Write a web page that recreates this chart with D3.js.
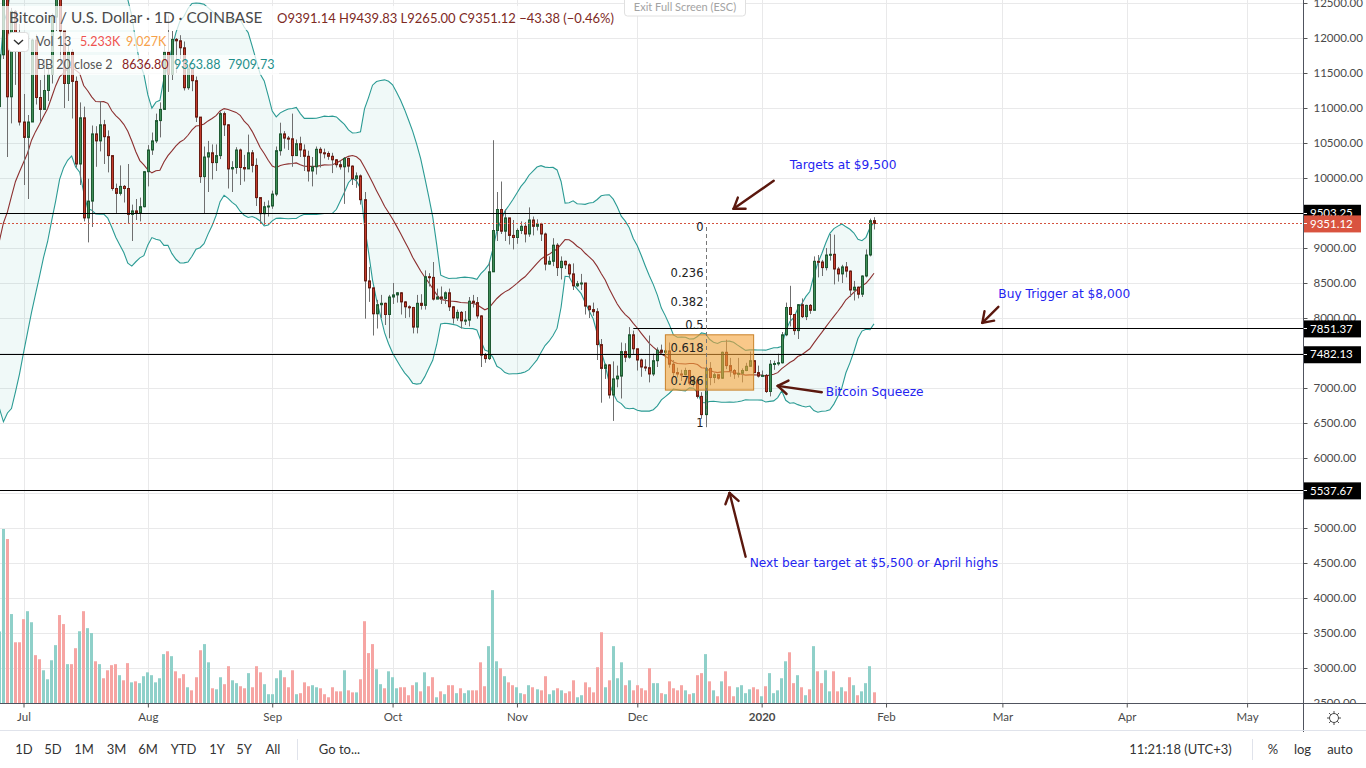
<!DOCTYPE html>
<html>
<head>
<meta charset="utf-8">
<script src="https://cdn.jsdelivr.net/npm/d3@7"></script>
<style>
html, body { margin: 0; padding: 0; background: #fff; overflow: hidden; }
svg { display: block; font-family: Lato, "Open Sans", sans-serif; }
</style>
</head>
<body>
<div id="chart"></div>
<script>
// daily BTC/USD candles, 1 Jun 2019 .. 29 Jan 2020 (Coinbase)
var firstDay = '2019-06-01';
var opens = [
	8560,8550,8740,8110,7680,7790,7810,8000,7930,7630, 8020,7930,8170,8240,8700,8860,8980,9330,9080,9280, 9530,10220,10680,10860,11020,11760,12930,11160,12380,11880,
	10800,10580,10800,11970,11150,10980,11250,11480,12300,12580, 12100,11350,11800,11380,10200,10860,9430,9670,10630,10530, 10760,10590,10320,9850,9780,9880,9850,9480,9530,9500, 9590,
	10090,10400,10530,10820,10980,11800,11480,11980,11960,11860, 11290,11560,11390,10870,10020,10300,10360,10220,10320,10920, 10760,10130,10150,10400,10150,10130,10360,10180,9720,9490, 9590,
	9600,9770,10390,10630,10570,10560,10320,10490,10400,10310, 10100,10160,10410,10360,10350,10310,10260,10190,10160,10280, 10170,9990,10030,9690,8530,8430,8060,8190,8210,8050,
	8300,8330,8360,8230,8160,8150,7870,8210,8180,8590, 8580,8270,8300,8280,8360,8160,8000,8080,7960,7970, 8240,8220,8030,7470,7420,8660,9250,9550,9240,9430, 9180,
	9150,9250,9310,9200,9400,9310,9340,9200,8770,8810, 9040,8720,8810,8760,8630,8460,8490,8500,8170,8120, 8090,7620,7280,7330,6900,7130,7170,7520,7440,7760,
	7560,7400,7300,7290,7200,7390,7540,7510,7530,7340, 7220,7200,7190,7250,7070,7110,6880,6620,7280,7150, 7190,7140,7510,7320,7250,7200,7210,7250,7310,7390, 7220,
	7170,7180,6950,7340,7350,7360,7760,8150,8050,7820, 8190,8020,8180,8110,8810,8800,8720,8900,8910,8700, 8630,8730,8670,8400,8440,8340,8600,8900,9391.14
];
var highs = [
	8630,8800,8740,8110,7900,7880,8150,8060,7960,8080, 8030,8250,8310,8700,8900,9350,9470,9350,9320,9600, 10220,11220,11350,11120,11800,13880,13380,12430,12400,12200,
	11200,10900,11990,12050,11400,11700,11600,12350,12800,13200, 12100,11920,11840,11450,11080,11020,9990,10750,10740,11100, 10830,10680,10320,9920,10180,9900,10200,9620,9700,9720, 10100,
	10470,10650,10920,11080,11900,12320,12100,12000,12040,11950, 11580,11560,11450,10870,10450,10530,10480,10480,10950,10950, 10770,10240,10440,10420,10330,10620,10400,10280,9720,9660, 9680,
	9820,10450,10790,10670,10600,10920,10550,10590,10480,10390, 10300,10450,10440,10420,10380,10360,10270,10250,10300,10290, 10180,10080,10050,9800,8730,8440,8260,8330,8220,8330,
	8500,8370,8370,8240,8180,8160,8330,8340,8680,8640, 8800,8420,8450,8380,8420,8170,8120,8100,8100,8300, 8330,8300,8040,7500,8800,10540,9800,9950,9550,9430, 9400,
	9280,9380,9370,9580,9450,9410,9360,9220,8880,9140, 9070,8880,8820,8780,8780,8530,8630,8500,8180,8220, 8140,7700,7350,7340,7380,7320,7650,7640,7870,7820,
	7560,7420,7410,7750,7490,7580,7620,7560,7650,7400, 7290,7260,7290,7260,7180,7140,6940,7440,7370,7220, 7190,7520,7690,7430,7270,7430,7280,7360,7520,7400, 7320,
	7250,7200,7400,7390,7490,7800,8220,8460,8050,8200, 8280,8190,8200,8880,8900,8830,9000,9200,9190,8730, 8760,8800,8680,8530,8450,8610,8980,9420,9439.83
];
var lows = [
	8460,8520,8080,7480,7580,7450,7750,7800,7520,7520, 7700,7850,8050,8170,8620,8830,8970,8950,9060,9200, 9530,10030,10590,10600,10980,11700,10300,10780,11330,10750,
	9900,9700,10800,11050,10800,10980,11100,11350,12100,11600, 11000,11100,10850,10150,9900,9380,9080,9300,10160,10380, 10200,10080,9820,9500,9750,9650,9350,9100,9400,9380, 9580,
	9880,10330,10500,10580,10980,11230,11400,11500,11700,11250, 11260,11240,10800,9930,9500,9800,9980,10100,10270,10600, 9850,9800,10060,9900,9950,10130,10080,9600,9350,9330, 9450,
	9560,9740,10320,10420,10400,10160,10320,10300,10100,9950, 9880,10050,10150,10280,10260,10070,10150,10120,9630,10080, 9900,9860,9620,7990,8230,7750,7850,8000,7900,7710,
	8200,8220,8050,8000,8010,7780,7780,8120,8120,8450, 8250,8270,8200,8200,8100,7920,7960,7850,7900,7880, 8150,7990,7300,7360,7400,8660,9100,9200,9100,9050, 8980,
	9060,9200,9080,9160,9180,9250,9100,8680,8760,8740, 8600,8550,8700,8570,8400,8440,8400,8050,8000,8030, 7400,6790,7130,6850,6530,7010,6850,7370,7420,7480,
	7250,7160,7240,7080,7170,7300,7490,7410,7290,7170, 7150,7100,7180,7040,7020,6850,6560,6440,7040,7070, 7120,7130,7270,7160,7130,7150,7080,7240,7300,7220, 7150,
	7170,6930,6880,7260,7320,7350,7740,7880,7760,7700, 8000,7970,8060,8110,8580,8600,8680,8820,8480,8520, 8500,8580,8300,8250,8280,8300,8580,8880,9265.00
];
var closes = [
	8550,8740,8110,7680,7790,7810,8000,7930,7630,8020, 7930,8170,8240,8700,8860,8980,9330,9080,9280,9530, 10220,10680,10860,11020,11760,12930,11160,12380,11880,10800,
	10580,10800,11970,11150,10980,11250,11480,12300,12580,12100, 11350,11800,11380,10200,10860,9430,9670,10630,10530,10760, 10590,10320,9850,9780,9880,9850,9480,9530,9500,9590, 10090,
	10400,10530,10820,10980,11800,11480,11980,11960,11860,11290, 11560,11390,10870,10020,10300,10360,10220,10320,10920,10760, 10130,10150,10400,10150,10130,10360,10180,9720,9490,9590, 9600,
	9770,10390,10630,10570,10560,10320,10490,10400,10310,10100, 10160,10410,10360,10350,10310,10260,10190,10160,10280,10170, 9990,10030,9690,8530,8430,8060,8190,8210,8050,8300,
	8330,8360,8230,8160,8150,7870,8210,8180,8590,8580, 8270,8300,8280,8360,8160,8000,8080,7960,7970,8240, 8220,8030,7470,7420,8660,9250,9550,9240,9430,9180, 9150,
	9250,9310,9200,9400,9310,9340,9200,8770,8810,9040, 8720,8810,8760,8630,8460,8490,8500,8170,8120,8090, 7620,7280,7330,6900,7130,7170,7520,7440,7760,7560,
	7400,7300,7290,7200,7390,7540,7510,7530,7340,7220, 7200,7190,7250,7070,7110,6880,6620,7280,7150,7190, 7140,7510,7320,7250,7200,7210,7250,7310,7390,7220, 7170,
	7180,6950,7340,7350,7360,7760,8150,8050,7820,8190, 8020,8180,8110,8810,8800,8720,8900,8910,8700,8630, 8730,8670,8400,8440,8340,8600,8900,9390,9351.12
];
// volume in thousands of BTC
var volumes = [
	22,18,30,35,20,18,19,15,16,18, 15,16,15,20,12,22,24,18,14,16, 30,40,22,24,35,85.1,80.2,43.5,29.7,29.7,
	41.0,44.9,39.5,23.4,21.4,16.0,11.6,20.9,28.3,43.0, 38.6,19.0,19.0,26.8,35.1,44.9,36.6,34.2,20.4,19.0, 12.1,16.0,18.5,19.0,13.6,11.1,19.5,10.1,10.6,9.7, 13.1,
	15.0,13.6,10.1,12.1,23.9,25.3,22.9,15.5,12.1,14.1, 7.7,6.2,12.6,25.8,28.8,19.9,7.2,6.7,12.6,9.2, 18.0,11.1,9.7,8.2,7.2,14.6,7.7,18.0,15.0,9.2, 4.3,
	4.3,12.1,16.0,12.6,7.7,16.0,4.3,4.8,10.1,8.2, 8.7,7.7,7.2,4.3,2.8,7.7,5.7,5.7,16.0,6.2, 5.2,5.2,11.6,40.0,24.4,28.8,16.5,9.2,7.2,15.5,
	12.6,7.2,7.7,7.7,3.8,8.7,10.1,5.7,15.0,8.2, 12.6,2.8,5.7,4.3,8.7,8.7,4.8,7.2,4.8,6.2, 6.2,6.2,19.9,8.2,27.8,55.2,20.4,17.0,13.1,10.1, 8.7,
	7.7,4.8,4.3,8.7,7.7,6.7,6.2,13.1,4.3,6.2, 7.2,6.2,4.8,5.7,11.1,2.8,3.8,10.1,7.7,5.2, 17.5,34.6,7.7,11.1,27.8,12.1,19.9,8.7,11.1,6.2,
	8.7,7.2,6.2,17.0,9.7,9.7,4.8,4.3,10.6,7.2, 6.2,8.7,6.2,4.3,4.8,13.6,14.6,23.9,10.6,6.2, 3.3,10.6,15.5,8.2,3.3,7.7,8.7,4.8,6.7,7.7, 6.7,
	3.3,8.2,14.6,4.8,6.2,12.1,20.4,24.8,9.7,13.6, 7.7,3.8,6.7,27.8,15.5,9.7,16.0,5.7,15.5,5.7, 7.7,5.7,12.6,8.7,3.8,5.7,9.7,18.0,5.233
];

// drawings on the chart
var levelLines = [
	{ price: 9503.25, from: null },
	{ price: 7851.37, from: '2019-11-30' },
	{ price: 7482.13, from: null },
	{ price: 5537.67, from: null }
];
var lastPrice = 9351.12;
var fibLevels = [0, 0.236, 0.382, 0.5, 0.618, 0.786, 1];
var fibTop = 9300, fibBottom = 6500, fibDay = '2019-12-18';
var squeezeBox = { from: '2019-12-08', to: '2019-12-30', top: 7760, bottom: 6970 };
var notes = [
	{ text: 'Targets at $9,500', at: ['2020-01-08', 10190], tip: ['2019-12-25', 9560], tail: ['2020-01-04', 9960] },
	{ text: 'Buy Trigger at $8,000', at: ['2020-02-29', 8340], tip: ['2020-02-25', 7930], tail: ['2020-02-29', 8160] },
	{ text: 'Bitcoin Squeeze', at: ['2020-01-17', 6940], tip: ['2020-01-05', 7030], tail: ['2020-01-16', 6940] },
	{ text: 'Next bear target at $5,500 or April highs', at: ['2019-12-29', 4500], tip: ['2019-12-24', 5500], tail: ['2019-12-28', 4590] }
];
var priceTicks = d3.range(2500, 12501, 500);

//configuration
var width = 1366, height = 768,
	plotW = 1303, plotH = 703,
	upFill = '#3e8e57', upLine = '#1f5a33',
	downFill = '#c33b2c', downLine = '#6a1d13',
	wickColor = '#6f6f6f';

var parse = d3.utcParse('%Y-%m-%d');
var days = d3.utcDay.range(parse(firstDay), d3.utcDay.offset(parse(firstDay), closes.length));

var candles = days.map(function(d, i){
	return { date: d, o: opens[i], h: highs[i], l: lows[i], c: closes[i], v: volumes[i] };
});

// Bollinger bands 20, 2 on close
var bands = [];
for (var i = 19; i < closes.length; i++) {
	var win = closes.slice(i - 19, i + 1);
	var m = d3.mean(win);
	var sd = Math.sqrt(d3.mean(win, function(v){ return (v - m) * (v - m); }));
	bands.push({ date: days[i], basis: m, upper: m + 2 * sd, lower: m - 2 * sd });
}

var x = d3.scaleUtc()
	.domain([parse('2019-07-01'), parse('2020-01-29')])
	.range([23.5, 874]);
var y = d3.scaleLinear().domain([2500, 12500]).range([703, 3]);
var yVol = d3.scaleLinear().domain([0, 85.1]).range([703, 529]);

var svg = d3.select('#chart').append('svg')
	.attr('width', width)
	.attr('height', height);

svg.append('rect').attr('width', width).attr('height', height).attr('fill', '#fff');

svg.append('clipPath').attr('id', 'plot')
	.append('rect').attr('width', plotW).attr('height', plotH);

var plot = svg.append('g').attr('clip-path', 'url(#plot)');

// grid
var months = d3.utcMonth.range(parse('2019-07-01'), parse('2020-05-02'));
plot.selectAll('.hgrid').data(priceTicks).enter().append('line')
	.attr('x1', 0).attr('x2', plotW)
	.attr('y1', function(d){ return Math.round(y(d)) + 0.5; })
	.attr('y2', function(d){ return Math.round(y(d)) + 0.5; })
	.attr('stroke', '#e9e9ea');
plot.selectAll('.vgrid').data(months).enter().append('line')
	.attr('y1', 0).attr('y2', plotH)
	.attr('x1', function(d){ return Math.round(x(d)) + 0.5; })
	.attr('x2', function(d){ return Math.round(x(d)) + 0.5; })
	.attr('stroke', '#e9e9ea');

// volume
plot.selectAll('.vol').data(candles).enter().append('rect')
	.attr('x', function(d){ return Math.round(x(d.date) - 1.5); })
	.attr('width', 3)
	.attr('y', function(d){ return yVol(d.v); })
	.attr('height', function(d){ return 703 - yVol(d.v); })
	.attr('fill', function(d){ return d.c >= d.o ? '#8fd0c9' : '#f6a5a3'; });

// bollinger
plot.append('path').datum(bands)
	.attr('d', d3.area().x(function(d){ return x(d.date); })
		.y0(function(d){ return y(d.lower); })
		.y1(function(d){ return y(d.upper); }))
	.attr('fill', '#26a69a').attr('fill-opacity', 0.07);
[['upper', '#2b9b94'], ['lower', '#2b9b94'], ['basis', '#8c3030']].forEach(function(b){
	plot.append('path').datum(bands)
		.attr('d', d3.line().x(function(d){ return x(d.date); }).y(function(d){ return y(d[b[0]]); }))
		.attr('fill', 'none').attr('stroke', b[1]).attr('stroke-width', 1.1);
});

// candles
var mark = plot.selectAll('.mark').data(candles).enter().append('g').attr('class', 'mark');
mark.append('line')
	.attr('x1', function(d){ return Math.round(x(d.date)) + 0.5; })
	.attr('x2', function(d){ return Math.round(x(d.date)) + 0.5; })
	.attr('y1', function(d){ return y(d.h); })
	.attr('y2', function(d){ return y(d.l); })
	.attr('stroke', wickColor);
mark.append('rect')
	.attr('x', function(d){ return Math.round(x(d.date)) - 0.5; })
	.attr('width', 2)
	.attr('y', function(d){ return y(Math.max(d.o, d.c)); })
	.attr('height', function(d){ return Math.max(1, Math.abs(y(d.o) - y(d.c))); })
	.attr('fill', function(d){ return d.c >= d.o ? upFill : downFill; })
	.attr('stroke', function(d){ return d.c >= d.o ? upLine : downLine; })
	.attr('stroke-width', 1);

// horizontal lines
plot.selectAll('.level').data(levelLines).enter().append('line')
	.attr('x1', function(d){ return d.from ? x(parse(d.from)) : 0; })
	.attr('x2', plotW)
	.attr('y1', function(d){ return Math.round(y(d.price)) + 0.5; })
	.attr('y2', function(d){ return Math.round(y(d.price)) + 0.5; })
	.attr('stroke', '#000').attr('stroke-width', 1.2);
plot.append('line')
	.attr('x1', 0).attr('x2', plotW)
	.attr('y1', Math.round(y(lastPrice)) + 0.5).attr('y2', Math.round(y(lastPrice)) + 0.5)
	.attr('stroke', '#d3533f').attr('stroke-dasharray', '2,2');

// squeeze box
plot.append('rect')
	.attr('x', x(parse(squeezeBox.from)))
	.attr('width', x(parse(squeezeBox.to)) - x(parse(squeezeBox.from)))
	.attr('y', y(squeezeBox.top))
	.attr('height', y(squeezeBox.bottom) - y(squeezeBox.top))
	.attr('fill', '#f5a33a').attr('fill-opacity', 0.6)
	.attr('stroke', '#c9822a');

// fibonacci
var fx = Math.round(x(parse(fibDay))) + 0.5;
plot.append('line')
	.attr('x1', fx).attr('x2', fx)
	.attr('y1', y(fibTop)).attr('y2', y(fibBottom) + 4)
	.attr('stroke', '#777').attr('stroke-dasharray', '4,3');
plot.selectAll('.fib').data(fibLevels).enter().append('text')
	.attr('x', fx - 3)
	.attr('y', function(d){ return y(fibTop - d * (fibTop - fibBottom)); })
	.attr('dy', '0.35em')
	.attr('text-anchor', 'end')
	.style('font-family', '"DejaVu Sans", sans-serif')
	.style('font-size', '11.5px')
	.attr('fill', '#222')
	.text(function(d){ return d; });

// arrows and notes
function pt(p){ return [x(parse(p[0])), y(p[1])]; }
notes.forEach(function(n){
	var tip = pt(n.tip), tail = pt(n.tail);
	var a = Math.atan2(tail[1] - tip[1], tail[0] - tip[0]);
	var g = plot.append('g').attr('stroke', '#5b180e').attr('stroke-width', 2.4)
		.attr('stroke-linecap', 'round').attr('fill', 'none');
	g.append('line').attr('x1', tail[0]).attr('y1', tail[1]).attr('x2', tip[0]).attr('y2', tip[1]);
	[-0.6, 0.6].forEach(function(s){
		g.append('line').attr('x1', tip[0]).attr('y1', tip[1])
			.attr('x2', tip[0] + 12 * Math.cos(a + s)).attr('y2', tip[1] + 12 * Math.sin(a + s));
	});
	var at = pt(n.at);
	plot.append('text').attr('x', at[0]).attr('y', at[1]).attr('dy', '0.35em')
		.style('font-family', '"DejaVu Sans", sans-serif').style('font-size', '12.2px')
		.attr('fill', '#2424f0').text(n.text);
});

// legend
var legend = svg.append('g');
legend.append('rect').attr('x', 0).attr('y', 6).attr('width', 622).attr('height', 24).attr('fill', '#fff').attr('fill-opacity', 0.75);
legend.append('rect').attr('x', 30).attr('y', 32).attr('width', 140).attr('height', 20).attr('fill', '#fff').attr('fill-opacity', 0.75);
legend.append('rect').attr('x', 30).attr('y', 55).attr('width', 249).attr('height', 20).attr('fill', '#fff').attr('fill-opacity', 0.75);
function label(g, tx, ty, txt, color, size){
	return g.append('text').attr('x', tx).attr('y', ty).attr('dy', '0.35em')
		.style('font-size', (size || 13) + 'px').attr('fill', color).text(txt);
}
label(legend, 9, 18, 'Bitcoin / U.S. Dollar · 1D · COINBASE', '#4a4a4a', 15.4);
label(legend, 277, 18, 'O9391.14  H9439.83  L9265.00  C9351.12  \u221243.38 (\u22120.46%)', '#7e2a1f', 13);
label(legend, 36, 42, 'Vol 13', '#555', 12.5);
label(legend, 80, 42, '5.233K', '#ef5350', 12.5);
label(legend, 126, 42, '9.027K', '#f7a14b', 12.5);
label(legend, 37, 65, 'BB 20 close 2', '#555', 12.5);
label(legend, 122, 65, '8636.80', '#8a2323', 12.5);
label(legend, 174, 65, '9363.88', '#1f8f8a', 12.5);
label(legend, 228, 65, '7909.73', '#1f8f8a', 12.5);
legend.append('rect').attr('x', 8.5).attr('y', 32.5).attr('width', 20).attr('height', 19).attr('rx', 3)
	.attr('fill', '#fff').attr('stroke', '#dcdcdc');
legend.append('path').attr('d', 'M14 40 l4.5 4 l4.5 -4').attr('fill', 'none').attr('stroke', '#333').attr('stroke-width', 1.4);

// exit full screen button
svg.append('rect').attr('x', 624.5).attr('y', -4).attr('width', 121).attr('height', 20).attr('rx', 3)
	.attr('fill', '#fff').attr('stroke', '#e0e0e0');
label(svg, 685, 7, 'Exit Full Screen (ESC)', '#a3a3a3', 11).attr('text-anchor', 'middle');

// price axis (labels under a price tag are hidden, as on the original)
var tags = levelLines.map(function(d){ return { price: d.price, bg: '#000' }; })
	.concat([{ price: lastPrice, bg: '#d9533f' }]);
var shownTicks = priceTicks.filter(function(p){
	return tags.every(function(t){ return Math.abs(y(p) - y(t.price)) > 9; });
});
svg.append('rect').attr('x', plotW).attr('y', 0).attr('width', width - plotW).attr('height', plotH).attr('fill', '#fff');
var yAxis = svg.append('g').attr('transform', 'translate(' + (plotW + 0.5) + ',0)')
	.call(d3.axisRight(y).tickValues(shownTicks).tickFormat(d3.format('.2f')).tickSize(4).tickPadding(6));
yAxis.select('.domain').remove();
yAxis.selectAll('line').attr('stroke', '#555');
yAxis.selectAll('text').attr('fill', '#4a4a4a').style('font-family', 'Lato, sans-serif').style('font-size', '11.5px');

var tag = svg.selectAll('.tag').data(tags).enter().append('g');
tag.append('rect').attr('x', plotW).attr('width', 58)
	.attr('y', function(d){ return y(d.price) - 8; }).attr('height', 17)
	.attr('fill', function(d){ return d.bg; });
tag.append('text').attr('x', plotW + 7).attr('y', function(d){ return y(d.price); }).attr('dy', '0.36em')
	.style('font-size', '11.5px').attr('fill', '#fff')
	.text(function(d){ return d3.format('.2f')(d.price); });
tag.append('line').attr('x1', plotW).attr('x2', plotW + 4)
	.attr('y1', function(d){ return Math.round(y(d.price)) + 0.5; })
	.attr('y2', function(d){ return Math.round(y(d.price)) + 0.5; })
	.attr('stroke', '#fff');

// time axis
svg.append('rect').attr('x', 0).attr('y', plotH).attr('width', width).attr('height', height - plotH).attr('fill', '#fff');
var xAxis = svg.append('g').attr('transform', 'translate(0,' + (plotH + 0.5) + ')')
	.call(d3.axisBottom(x).tickValues(months).tickSize(4).tickPadding(5)
		.tickFormat(function(d){ return d.getUTCMonth() === 0 ? d3.utcFormat('%Y')(d) : d3.utcFormat('%b')(d); }));
xAxis.select('.domain').remove();
xAxis.selectAll('line').attr('stroke', '#555');
xAxis.selectAll('text').attr('fill', '#4a4a4a').style('font-family', 'Lato, sans-serif').style('font-size', '11.5px')
	.style('font-weight', function(d){ return d.getUTCMonth() === 0 ? 'bold' : 'normal'; });
svg.append('line').attr('x1', 0).attr('x2', width).attr('y1', plotH + 0.5).attr('y2', plotH + 0.5).attr('stroke', '#50535e');
svg.append('line').attr('x1', plotW + 0.5).attr('x2', plotW + 0.5).attr('y1', 0).attr('y2', 732).attr('stroke', '#50535e');

// settings icon
var gear = svg.append('g').attr('transform', 'translate(1334,718)').attr('stroke', '#4a4a4a').attr('fill', 'none');
gear.append('circle').attr('r', 4.5);
d3.range(8).forEach(function(k){
	var a = k * Math.PI / 4;
	gear.append('line').attr('x1', 4.5 * Math.cos(a)).attr('y1', 4.5 * Math.sin(a))
		.attr('x2', 7 * Math.cos(a)).attr('y2', 7 * Math.sin(a));
});

// bottom toolbar
svg.append('line').attr('x1', 0).attr('x2', width).attr('y1', 730.5).attr('y2', 730.5).attr('stroke', '#e0e3eb');
var bar = svg.append('g');
[['1D', 24], ['5D', 53], ['1M', 84], ['3M', 116.5], ['6M', 148], ['YTD', 183.5], ['1Y', 217], ['5Y', 244], ['All', 273], ['Go to...', 339.5],
	['11:21:18 (UTC+3)', 1180.5], ['%', 1273], ['log', 1302.5], ['auto', 1340]].forEach(function(t){
	label(bar, t[1], 749, t[0], '#333', 13).attr('text-anchor', 'middle');
});
bar.append('line').attr('x1', 297.5).attr('x2', 297.5).attr('y1', 739).attr('y2', 760).attr('stroke', '#e0e3eb');
bar.append('line').attr('x1', 1252.5).attr('x2', 1252.5).attr('y1', 739).attr('y2', 760).attr('stroke', '#e0e3eb');
</script>
</body>
</html>
